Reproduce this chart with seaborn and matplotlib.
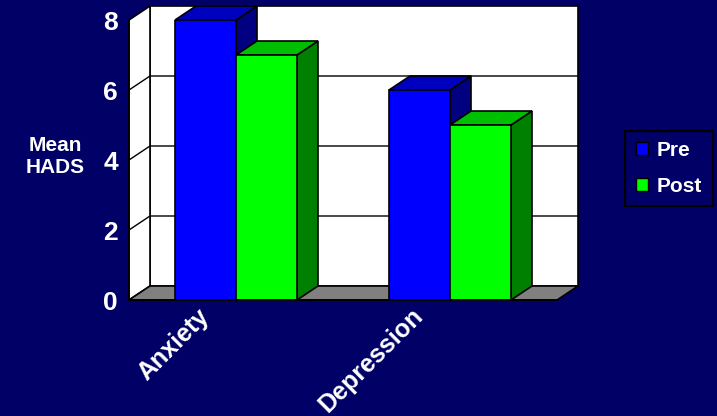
import numpy as np
import pandas as pd
import matplotlib
matplotlib.use("Agg")
import matplotlib.pyplot as plt
from matplotlib.patches import Polygon, Patch
from matplotlib.transforms import ScaledTranslation
import seaborn as sns

# Data
categories = ["Anxiety", "Depression"]
times = ["Pre", "Post"]
pre_values = [8, 6]
post_values = [7, 5]
y_ticks = [0, 2, 4, 6, 8]

BG = "#000066"
front_colors = {"Pre": "#0000FF", "Post": "#00FF00"}

df = pd.DataFrame({
    "Scale": categories * 2,
    "Time": ["Pre"] * len(categories) + ["Post"] * len(categories),
    "HADS": pre_values + post_values,
})

sns.set_theme(style="white")
plt.rcParams["font.family"] = ["Liberation Sans", "DejaVu Sans"]
plt.rcParams["font.weight"] = "bold"

W, H = 717, 416
fig = plt.figure(figsize=(W / 100, H / 100), dpi=100, facecolor=BG)
ax = fig.add_axes([129 / W, (H - 300) / H, 428 / W, 280 / H])
ax.set_facecolor("none")

sns.barplot(data=df, x="Scale", y="HADS", hue="Time", hue_order=times,
            palette=front_colors, width=0.57, gap=0, saturation=1,
            edgecolor="black", linewidth=1.2, legend=False, ax=ax)
bars = [p for p in ax.patches]

ax.set_xlim(-0.5, 1.5)
ax.set_ylim(0, 8)

# depth of the 3D box, in pixels, converted to data units
origin = ax.transData.transform((0, 0))
DX, DY = ax.transData.inverted().transform(origin + np.array([21, 14]))
x0, x1, ytop = -0.5, 1.5, 8

def poly(pts, fc, z, lw=1.2):
    ax.add_patch(Polygon(pts, closed=True, facecolor=fc, edgecolor="black",
                         linewidth=lw, clip_on=False, zorder=z,
                         joinstyle="miter"))

# walls and floor
poly([(x0 + DX, DY), (x1 + DX, DY), (x1 + DX, ytop + DY), (x0 + DX, ytop + DY)], "white", 0.5)
poly([(x0, 0), (x0 + DX, DY), (x0 + DX, ytop + DY), (x0, ytop)], "white", 0.6)
poly([(x0, 0), (x1, 0), (x1 + DX, DY), (x0 + DX, DY)], "#808080", 0.7)
for yv in y_ticks[1:-1]:
    ax.plot([x0, x0 + DX, x1 + DX], [yv, yv + DY, yv + DY], color="black",
            lw=1.0, clip_on=False, zorder=0.8)

# 3D faces for each bar, drawn left to right
bars.sort(key=lambda p: p.get_x())
for i, b in enumerate(bars):
    bx, bw, bh = b.get_x(), b.get_width(), b.get_height()
    rgb = np.array(matplotlib.colors.to_rgb(b.get_facecolor()))
    z = 3 + 2 * i
    poly([(bx + bw, 0), (bx + bw + DX, DY), (bx + bw + DX, bh + DY), (bx + bw, bh)], rgb * 0.5, z)
    poly([(bx, bh), (bx + bw, bh), (bx + bw + DX, bh + DY), (bx + DX, bh + DY)], rgb * 0.75, z)
    b.set_zorder(z + 1)

# spines
for s in ["top", "right"]:
    ax.spines[s].set_visible(False)
for s in ["left", "bottom"]:
    ax.spines[s].set_color("black")
    ax.spines[s].set_linewidth(1.2)
    ax.spines[s].set_zorder(20)

# y axis
ax.set_yticks(y_ticks)
ax.tick_params(axis="y", direction="out", length=6, width=1.2, color="black",
               pad=2, labelcolor="white", labelsize=19)
for lab in ax.get_yticklabels():
    lab.set_fontweight("bold")
ax.set_ylabel("Mean\nHADS", rotation=0, ha="center", va="center",
              color="white", fontsize=15, fontweight="bold", linespacing=1.2)
ax.yaxis.set_label_coords(-0.173, 0.511)

# x axis: ticks at category boundaries, labels at centres
ax.set_xticks([-0.5, 0.5, 1.5], labels=["", "", ""])
ax.set_xticks([0, 1], labels=categories, minor=True)
ax.tick_params(axis="x", which="major", direction="out", length=4, width=1.2,
               color="black")
ax.tick_params(axis="x", which="minor", length=0, pad=3, labelcolor="white",
               labelsize=18)
ax.set_xlabel("")
shift = ScaledTranslation(-0.22, 0, fig.dpi_scale_trans)
for lab in ax.get_xticklabels(minor=True):
    lab.set_rotation(45)
    lab.set_ha("right")
    lab.set_va("top")
    lab.set_fontweight("bold")
    lab.set_transform(lab.get_transform() + shift)

# legend
handles = [Patch(facecolor=front_colors[t], edgecolor="black", linewidth=1.0, label=t)
           for t in times]
leg = fig.legend(handles=handles, loc="center", bbox_to_anchor=(669 / W, 1 - 168.5 / H),
                 facecolor=BG, edgecolor="black", framealpha=1, fancybox=False,
                 labelcolor="white", prop={"weight": "bold", "size": 15},
                 handlelength=0.6, handleheight=0.6, handletextpad=0.4,
                 labelspacing=0.8, borderpad=0.5)
leg.get_frame().set_linewidth(1.5)

fig.savefig("out.png", dpi=100, facecolor=BG)
